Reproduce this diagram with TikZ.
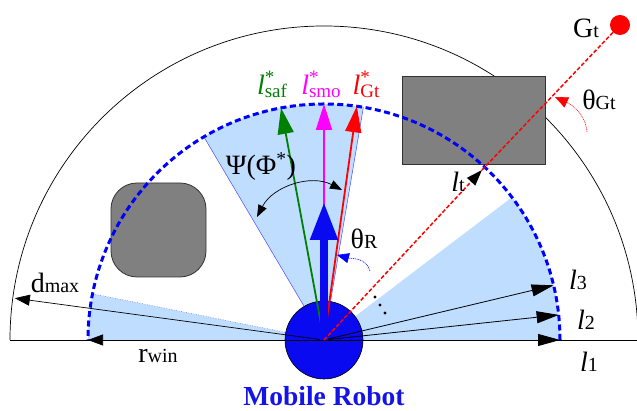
\documentclass[tikz,border=0pt]{standalone}
\usepackage{fontspec}
\setmainfont{Liberation Serif}
\usetikzlibrary{arrows.meta,calc}
\definecolor{secfill}{RGB}{190,221,255}
\definecolor{winblue}{RGB}{0,0,255}
\definecolor{robotblue}{RGB}{10,10,240}
\definecolor{obgray}{RGB}{128,128,128}
\definecolor{obedge}{RGB}{50,50,50}
\definecolor{darkgreen}{RGB}{0,128,0}
\definecolor{mag}{RGB}{255,0,255}
\definecolor{labblue}{RGB}{20,20,230}
\newcommand{\sm}[1]{{\fontsize{20}{20}\selectfont #1}}
\newcommand{\lstar}[1]{\textit{l}\rlap{\raisebox{0.4em}{\fontsize{19}{19}\selectfont *}}\raisebox{-0.1em}{\fontsize{19}{19}\selectfont #1}}
\begin{document}
\begin{tikzpicture}[x=1pt,y=1pt,
  outer/.style={black,line width=0.7pt},
  win/.style={draw=winblue,line width=3pt,dash pattern=on 6pt off 3.5pt},
  edgeline/.style={draw=winblue!70,line width=0.5pt},
  obst/.style={fill=obgray,draw=obedge,line width=0.8pt},
  robot/.style={circle,draw=black,line width=0.6pt,fill=robotblue,minimum size=78pt,inner sep=0pt},
  blkarr/.style={black,line width=0.8pt,-{Triangle[length=22pt,width=12pt]}},
  smallarr/.style={black,line width=0.7pt,-{Triangle[length=15pt,width=11pt]}},
  colarr/.style={line width=1.8pt,-{Triangle[length=26pt,width=16pt]}},
  heading/.style={draw=robotblue,line width=8pt,-{Triangle[length=38pt,width=26pt]}},
  reddash/.style={red,line width=1.5pt,dash pattern=on 4pt off 2pt},
  thinarc/.style={line width=0.6pt,dash pattern=on 1pt off 0.8pt},
  lab/.style={font=\fontsize{28}{32}\selectfont,inner sep=0pt},
  toplab/.style={font=\fontsize{28}{32}\selectfont,inner sep=0pt,anchor=base}]
\useasboundingbox (0,0) rectangle (637,411);
\coordinate (O) at (324,71);
% shaded sectors of the window
\fill[secfill] (O) -- ++(168.7:236) arc[start angle=168.7,end angle=180,radius=236] -- cycle;
\fill[secfill] (O) -- ++(80.4:236) arc[start angle=80.4,end angle=120.6,radius=236] -- cycle;
\fill[secfill] (O) -- ++(0:236) arc[start angle=0,end angle=37.2,radius=236] -- cycle;
\draw[edgeline] (O) -- ++(80.4:236);
\draw[edgeline] (O) -- ++(120.6:236);
\draw[edgeline,dotted] (O) -- ++(168.7:236);
% outer semicircle (d_max) and base line
\draw[outer] (O) ++(-314,0) arc[start angle=180,end angle=0,radius=314];
\draw[outer] (10,71) -- (637,71);
% obstacles
\draw[obst,rounded corners=26pt] (111,134) rectangle (206,228);
\draw[obst] (402,247) rectangle (545,335);
% window boundary
\draw[win] (O) ++(236,0) arc[start angle=0,end angle=180,radius=236];
% robot
\node[robot] (robot) at (O) {};
% end points
\coordinate (tl1) at ($(O)+(0:236)$);
\coordinate (tl2) at ($(O)+(6.1:236)$);
\coordinate (tl3) at ($(O)+(13.4:236)$);
\coordinate (tdmax) at ($(O)+(172.3:312)$);
\coordinate (trwin) at ($(O)+(180:236)$);
\coordinate (tsaf) at ($(O)+(100.5:236)$);
\coordinate (tsmo) at ($(O)+(90:236)$);
\coordinate (tgt) at ($(O)+(82:236)$);
\coordinate (thead) at ($(O)+(90:138)$);
\coordinate (tlt) at (482,241);
\coordinate (gpos) at (620,386);
% range arrows
\draw[blkarr] (O) -- (tl1);
\draw[blkarr] (O) -- (tl2);
\draw[blkarr] (O) -- (tl3);
\draw[smallarr] (O) -- (tdmax);
\draw[smallarr] (O) -- (trwin);
% candidate directions
\draw[colarr,darkgreen] (O) -- (tsaf);
\draw[colarr,mag] (O) -- (tsmo);
\draw[colarr,red] (O) -- (tgt);
% robot heading
\draw[heading] (O) -- (thead);
% goal line
\draw[reddash,-{Triangle[length=16pt,width=11pt,color=black]}] (O) -- (tlt);
\draw[reddash] (tlt) -- (gpos);
\node[circle,fill=red,minimum size=20pt,inner sep=0pt] (Gt) at (gpos) {};
% angle arcs
\coordinate (rA) at (370,140);
\coordinate (rB) at (337,156);
\draw[thinarc,draw=winblue,-{Triangle[length=12pt,width=10pt,color=winblue]}] (rA) to[out=105,in=-15] (rB);
\coordinate (gA) at (587,279);
\coordinate (gB) at (555,314);
\draw[thinarc,draw=red,-{Triangle[length=13pt,width=11pt,color=red]}] (gA) to[out=95,in=-25] (gB);
\coordinate (pA) at (257,194);
\coordinate (pB) at (342,221);
\draw[black,line width=0.7pt,{Triangle[length=12pt,width=9pt]}-{Triangle[length=12pt,width=9pt]}] (pA) to[bend left=45] (pB);
% dots
\fill (375,114) circle (1.7);
\fill (380,106) circle (1.7);
\fill (385,98) circle (1.7);
% labels
\node[toplab,text=darkgreen] (lsaf) at (272,316) {\lstar{saf}};
\node[toplab,text=mag] (lsmo) at (321,316) {\lstar{smo}};
\node[toplab,text=red] (lgt) at (366,316) {\lstar{Gt}};
\node[lab] (Gtlab) at (586,383) {G\sm{t}};
\node[lab] (thgt) at (599,311) {θ\sm{Gt}};
\node[lab] (ltlab) at (458,229) {\textit{l}\sm{t}};
\node[lab] (thr) at (364,172) {θ\sm{R}};
\node[lab] (psi) at (261,244) {Ψ(Φ\textsuperscript{*})};
\node[lab] (dmax) at (55,128) {d\sm{max}};
\node[lab] (rwin) at (158,55) {r\sm{win}};
\node[lab] (l1) at (589,49) {\textit{l}\sm{1}};
\node[lab] (l2) at (586,91) {\textit{l}\sm{2}};
\node[lab] (l3) at (578,131) {\textit{l}\sm{3}};
\node[inner sep=0pt,anchor=base,text=labblue,font=\fontsize{27.5}{30}\selectfont\bfseries] (mr) at (324,5) {Mobile Robot};
\end{tikzpicture}
\end{document}
